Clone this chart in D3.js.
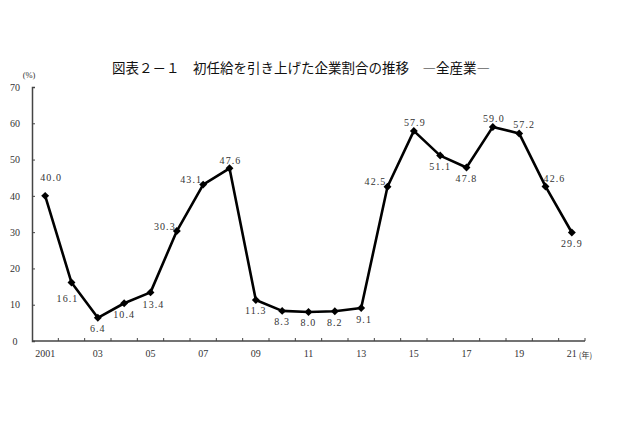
<!DOCTYPE html>
<html>
<head>
<meta charset="utf-8">
<script src="https://cdn.jsdelivr.net/npm/d3@7"></script>
<style>
  body { margin: 0; background: #fff; }
  svg { display: block; }
</style>
</head>
<body>
<div id="chart"></div>
<script>
// Data
const years = d3.range(2001, 2022);
const values = [40.0, 16.1, 6.4, 10.4, 13.4, 30.3, 43.1, 47.6, 11.3, 8.3, 8.0,
  8.2, 9.1, 42.5, 57.9, 51.1, 47.8, 59.0, 57.2, 42.6, 29.9];
const yTicks = [0, 10, 20, 30, 40, 50, 60, 70];
const xLabelYears = [2001, 2003, 2005, 2007, 2009, 2011, 2013, 2015, 2017, 2019, 2021];
// where each value label sits relative to its point
const labelPlace = ["topRight", "belowLeft", "below", "below", "belowRight", "left",
  "left", "above", "below", "below", "below", "below", "belowRight", "left",
  "above", "below", "below", "above", "aboveRight", "right", "below"];

const title = "図表２－１　初任給を引き上げた企業割合の推移　―全産業―";

const width = 640, height = 426;
const margin = { left: 32, right: 55, top: 87, bottom: 85 };

const svg = d3.select("#chart").append("svg")
  .attr("width", width)
  .attr("height", height);

const x = d3.scaleBand()
  .domain(years)
  .range([margin.left, width - margin.right]);

const y = d3.scaleLinear()
  .domain([0, 70])
  .range([height - margin.bottom, margin.top]);

const serif = "'Liberation Serif', 'DejaVu Serif', serif";

// Title
svg.append("text")
  .attr("x", 301)
  .attr("y", 73)
  .attr("text-anchor", "middle")
  .attr("font-family", "'Noto Sans CJK JP', sans-serif")
  .attr("font-size", "13.5px")
  .attr("fill", "#111")
  .text(title);

// Y axis
const yAxis = svg.append("g")
  .attr("transform", `translate(${margin.left},0)`)
  .call(d3.axisLeft(y).tickValues(yTicks).tickSize(-3).tickPadding(12));
yAxis.select(".domain").attr("stroke", "#444").attr("stroke-width", 1.5);
yAxis.selectAll(".tick line").attr("stroke", "#444");
yAxis.selectAll(".tick text")
  .attr("font-family", serif)
  .attr("font-size", "10px")
  .attr("fill", "#333")
  .attr("text-anchor", "middle")
  .attr("x", -17);

svg.append("text")
  .attr("x", 29)
  .attr("y", 78)
  .attr("text-anchor", "middle")
  .attr("font-family", serif)
  .attr("font-size", "8.5px")
  .attr("fill", "#333")
  .text("(%)");

// X axis: ticks at band boundaries, labels at odd years
const xAxis = svg.append("g")
  .attr("transform", `translate(0,${y(0)})`);
xAxis.append("line")
  .attr("x1", margin.left)
  .attr("x2", width - margin.right)
  .attr("stroke", "#444")
  .attr("stroke-width", 1.5);
xAxis.selectAll(".xtick")
  .data(years)
  .enter()
  .append("line")
  .attr("class", "xtick")
  .attr("x1", (d) => x(d) + x.bandwidth())
  .attr("x2", (d) => x(d) + x.bandwidth())
  .attr("y1", 0)
  .attr("y2", -3)
  .attr("stroke", "#444");
xAxis.selectAll(".xlabel")
  .data(xLabelYears)
  .enter()
  .append("text")
  .attr("class", "xlabel")
  .attr("x", (d) => x(d) + x.bandwidth() / 2)
  .attr("y", 16)
  .attr("text-anchor", "middle")
  .attr("font-family", serif)
  .attr("font-size", "10px")
  .attr("fill", "#333")
  .text((d) => (d === 2001 ? "2001" : String(d % 100).padStart(2, "0")));
xAxis.append("text")
  .attr("x", x(2021) + x.bandwidth() / 2 + 7)
  .attr("y", 17)
  .attr("font-family", "'Noto Sans CJK JP', serif")
  .attr("font-size", "8px")
  .attr("fill", "#333")
  .text("(年)");

// Line
const points = years.map((yr, i) => ({ year: yr, value: values[i], place: labelPlace[i] }));
const cx = (d) => x(d.year) + x.bandwidth() / 2;

svg.append("path")
  .datum(points)
  .attr("fill", "none")
  .attr("stroke", "#000")
  .attr("stroke-width", 2.6)
  .attr("stroke-linejoin", "round")
  .attr("d", d3.line().x(cx).y((d) => y(d.value)));

// Diamond markers
svg.selectAll(".marker")
  .data(points)
  .enter()
  .append("path")
  .attr("class", "marker")
  .attr("transform", (d) => `translate(${cx(d)},${y(d.value)})`)
  .attr("d", d3.symbol().type(d3.symbolDiamond2).size(40))
  .attr("fill", "#000");

// Value labels
const offsets = {
  above: [1, -8],
  aboveRight: [5, -9],
  right: [9, -8],
  topRight: [6, -18],
  below: [0, 11],
  belowLeft: [-4, 16],
  belowRight: [3, 12],
  left: [-12, -5],
};
svg.selectAll(".vlabel")
  .data(points)
  .enter()
  .append("text")
  .attr("class", "vlabel")
  .attr("x", (d) => cx(d) + offsets[d.place][0])
  .attr("y", (d) => y(d.value) + offsets[d.place][1])
  .attr("dy", "0.35em")
  .attr("text-anchor", "middle")
  .attr("font-family", serif)
  .attr("font-size", "10px")
  .attr("letter-spacing", "1.1px")
  .attr("fill", "#333")
  .text((d) => d.value.toFixed(1));
</script>
</body>
</html>
